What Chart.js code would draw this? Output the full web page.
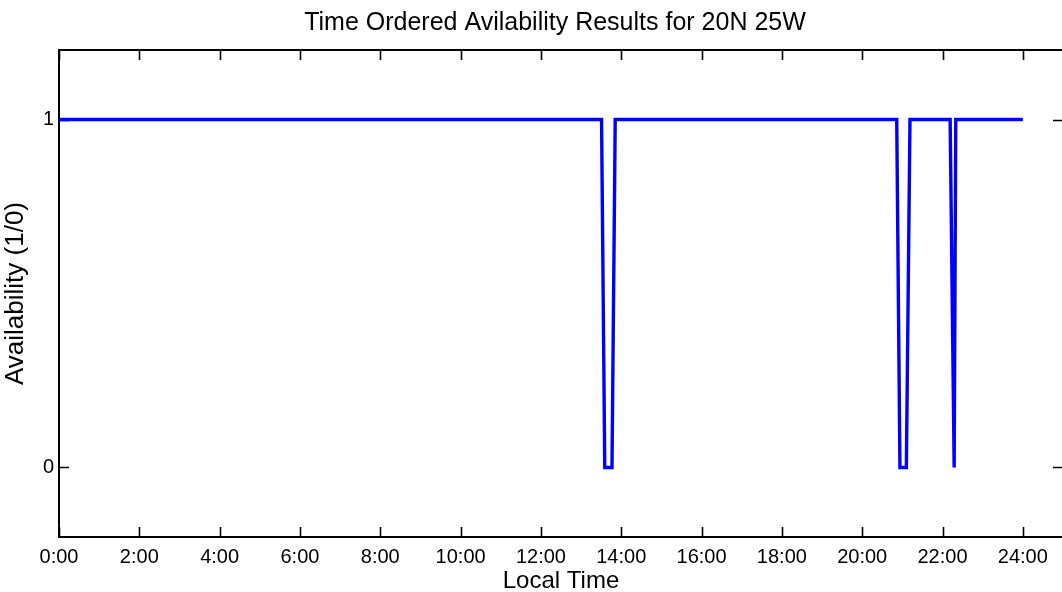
<!DOCTYPE html>
<html>
<head>
<meta charset="utf-8">
<script src="https://cdn.jsdelivr.net/npm/chart.js@4/dist/chart.umd.min.js"></script>
<style>
  html, body { margin: 0; padding: 0; background: #fff; overflow: hidden; width: 1062px; height: 592px; }
  #wrap { position: relative; width: 1110px; height: 592px; }
</style>
</head>
<body>
<div id="wrap"><canvas id="c"></canvas></div>
<script>
// ---- data ----
const chartTitle = 'Time Ordered Avilability Results for 20N 25W';
const xAxisTitle = 'Local Time';
const yAxisTitle = 'Availability (1/0)';
const timeHours    = [0, 13.51, 13.59, 13.77, 13.85, 20.86, 20.94, 21.10, 21.19, 22.19, 22.29, 22.33, 24];
const availability = [1, 1,     0,     0,     1,     1,     0,     0,     1,     1,     0,     1,     1];
const xTickValues = [0, 2, 4, 6, 8, 10, 12, 14, 16, 18, 20, 22, 24];
const xTickLabels = ['0:00','2:00','4:00','6:00','8:00','10:00','12:00','14:00','16:00','18:00','20:00','22:00','24:00'];
const yTickValues = [0, 1];
const yTickLabels = ['0', '1'];

const FONT = "'Liberation Sans', Arial, Helvetica, sans-serif";

const points = timeHours.map((t, i) => ({ x: t, y: availability[i] }));

const framePlugin = {
  id: 'frame',
  beforeDatasetsDraw(chart) {
    const { ctx, chartArea: a, scales } = chart;
    ctx.save();
    ctx.strokeStyle = '#000';
    ctx.lineWidth = 2;
    ctx.strokeRect(a.left, a.top, a.right - a.left, a.bottom - a.top);
    ctx.lineWidth = 1.6;
    const tl = 10;
    ctx.beginPath();
    xTickValues.forEach(v => {
      const px = Math.round(scales.x.getPixelForValue(v)) + 0.5;
      ctx.moveTo(px, a.bottom); ctx.lineTo(px, a.bottom - tl);
      ctx.moveTo(px, a.top); ctx.lineTo(px, a.top + tl);
    });
    yTickValues.forEach(v => {
      const py = Math.round(scales.y.getPixelForValue(v)) + 0.5;
      ctx.moveTo(a.left, py); ctx.lineTo(a.left + tl, py);
      ctx.moveTo(a.right, py); ctx.lineTo(a.right - tl, py);
    });
    ctx.stroke();
    ctx.restore();
  }
};

new Chart(document.getElementById('c'), {
  type: 'line',
  data: {
    datasets: [{
      data: points,
      borderColor: '#0000ff',
      borderWidth: 3.4,
      pointRadius: 0,
      tension: 0,
      fill: false
    }]
  },
  options: {
    responsive: true,
    maintainAspectRatio: false,
    animation: false,
    layout: { padding: 0 },
    plugins: {
      legend: { display: false },
      tooltip: { enabled: false },
      title: {
        display: true,
        text: chartTitle,
        color: '#000',
        font: { family: FONT, size: 25, weight: 'normal', lineHeight: 1.2 },
        padding: { top: 8, bottom: 12 }
      }
    },
    scales: {
      x: {
        type: 'linear',
        min: 0,
        max: 25,
        grid: { display: false, drawTicks: false },
        border: { display: false },
        afterBuildTicks: s => { s.ticks = xTickValues.map(v => ({ value: v })); },
        afterFit: s => { s.height = 55; },
        ticks: {
          color: '#000',
          padding: 8,
          maxRotation: 0,
          autoSkip: false,
          font: { family: FONT, size: 20 },
          callback: (v) => xTickLabels[xTickValues.indexOf(v)]
        },
        title: {
          display: true,
          text: xAxisTitle,
          color: '#000',
          font: { family: FONT, size: 24, lineHeight: 0.9 },
          padding: { top: 0, bottom: 0 }
        }
      },
      y: {
        type: 'linear',
        min: -0.2,
        max: 1.2,
        grid: { display: false, drawTicks: false },
        border: { display: false },
        afterBuildTicks: s => { s.ticks = yTickValues.map(v => ({ value: v })); },
        afterFit: s => { s.width = 59; },
        ticks: {
          color: '#000',
          padding: 5,
          font: { family: FONT, size: 20 },
          callback: (v) => yTickLabels[yTickValues.indexOf(v)]
        },
        title: {
          display: true,
          text: yAxisTitle,
          color: '#000',
          font: { family: FONT, size: 26, lineHeight: 1.2 },
          padding: { top: 0, bottom: 0 }
        }
      },
      yRight: {
        type: 'linear',
        position: 'right',
        min: -0.2,
        max: 1.2,
        grid: { display: false, drawTicks: false },
        border: { display: false },
        ticks: { display: false },
        afterFit: s => { s.width = 47; }
      }
    }
  },
  plugins: [framePlugin]
});
</script>
</body>
</html>
